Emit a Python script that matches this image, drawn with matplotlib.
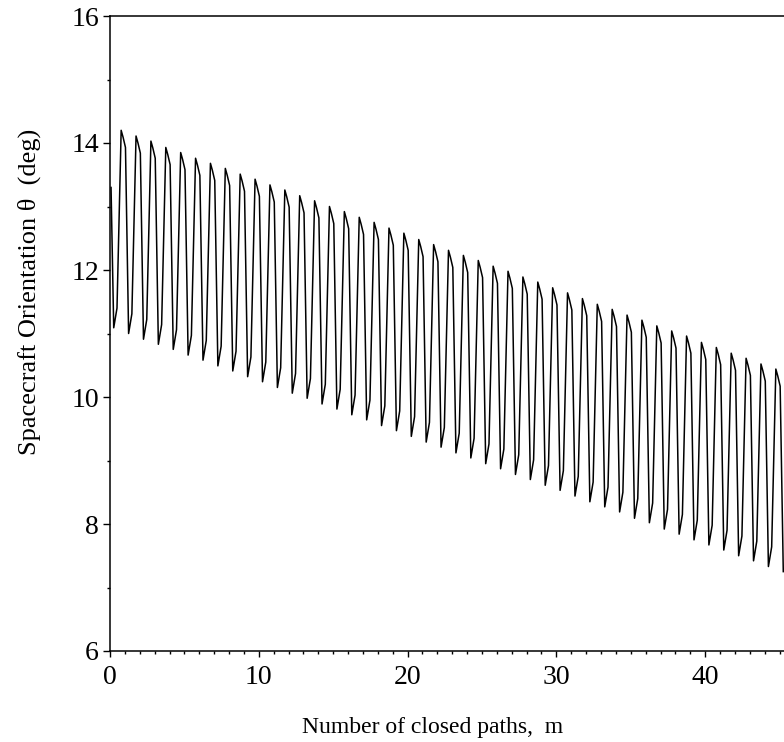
import numpy as np
import matplotlib
matplotlib.use("Agg")
import matplotlib.pyplot as plt
from matplotlib.ticker import MultipleLocator, FuncFormatter

plt.rcParams['font.family'] = ['Liberation Serif', 'DejaVu Serif']

# peak of each closed path (reached at m = k + 0.75)
peaks = [14.20, 14.11, 14.03, 13.93, 13.85, 13.76, 13.68, 13.60, 13.51, 13.43,
         13.34, 13.26, 13.17, 13.09, 13.00, 12.92, 12.83, 12.75, 12.66, 12.58,
         12.48, 12.40, 12.31, 12.23, 12.15, 12.06, 11.98, 11.89, 11.81, 11.72,
         11.64, 11.55, 11.46, 11.38, 11.29, 11.21, 11.12, 11.04, 10.96, 10.86,
         10.78, 10.69, 10.61, 10.52, 10.44]
# trough of each closed path (reached at m = k + 0.25)
troughs = [11.09, 11.00, 10.91, 10.83, 10.75, 10.66, 10.58, 10.49, 10.41, 10.32,
           10.24, 10.15, 10.06, 9.98, 9.89, 9.81, 9.72, 9.64, 9.55, 9.47,
           9.38, 9.29, 9.21, 9.12, 9.04, 8.95, 8.87, 8.78, 8.70, 8.61,
           8.53, 8.44, 8.35, 8.27, 8.19, 8.09, 8.02, 7.92, 7.84, 7.75,
           7.67, 7.59, 7.50, 7.42, 7.33, 7.25]
theta_start = 13.30
m_start = 0.07

# little kinks seen on each cycle: (offset in m, offset in theta)
fall_kinks = [(0.13, -0.11), (0.29, -0.27)]   # just after a peak
rise_kink = (0.22, 0.31)                      # just after a trough

m_pts = [m_start]
th_pts = [theta_start]
for k in range(len(peaks)):
    m_pts.append(k + 0.25); th_pts.append(troughs[k])
    m_pts.append(k + 0.25 + rise_kink[0]); th_pts.append(troughs[k] + rise_kink[1])
    m_pts.append(k + 0.75); th_pts.append(peaks[k])
    for dm, dth in fall_kinks:
        m_pts.append(k + 0.75 + dm); th_pts.append(peaks[k] + dth)
m_pts.append(len(peaks) + 0.25); th_pts.append(troughs[len(peaks)])

fig = plt.figure(figsize=(7.84, 7.42), dpi=100)
ax = fig.add_axes([110 / 784, 91 / 742, 677 / 784, 635 / 742])
ax.plot(m_pts, th_pts, color='black', lw=1.1)

ax.set_xlim(0, 45.5)
ax.set_ylim(6, 16)
ax.spines['right'].set_visible(False)
for s in ['left', 'bottom', 'top']:
    ax.spines[s].set_linewidth(1.1)

ax.xaxis.set_major_locator(MultipleLocator(10))
ax.xaxis.set_minor_locator(MultipleLocator(1))
ax.yaxis.set_major_locator(MultipleLocator(2))
ax.yaxis.set_minor_locator(MultipleLocator(1))
ax.tick_params(axis='x', which='major', length=4, width=1, pad=6, labelsize=20)
ax.tick_params(axis='x', which='minor', length=2.5, width=1)
ax.tick_params(axis='y', which='major', length=5, width=1, pad=3, labelsize=20)
ax.tick_params(axis='y', which='minor', length=2.5, width=1)
ax.xaxis.set_major_formatter(FuncFormatter(lambda v, p: f"{v:.0f}"))
ax.yaxis.set_major_formatter(FuncFormatter(lambda v, p: f"{v:.0f}"))

fig.text(433 / 784, 1 - 733 / 742, "Number of closed paths,  m",
         ha='center', va='baseline', fontsize=17)
fig.text(29 / 784, 1 - 292 / 742, "Spacecraft Orientation \u03b8  (deg)",
         ha='center', va='center', rotation=90, fontsize=19)

fig.savefig("out.png", dpi=100)
